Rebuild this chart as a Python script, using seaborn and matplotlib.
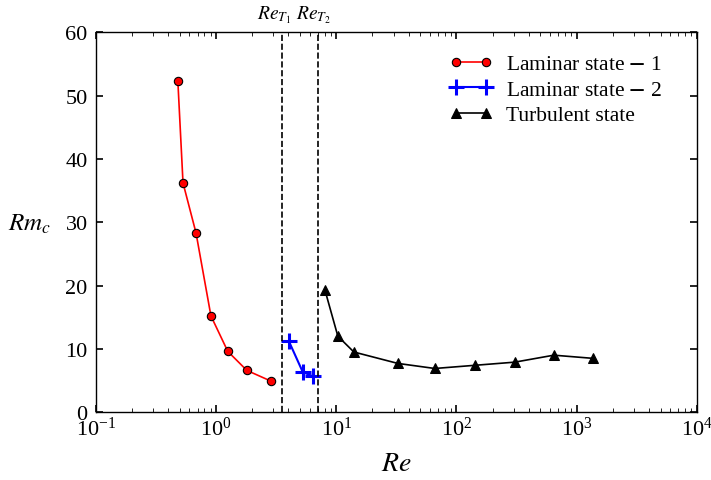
import numpy as np
import pandas as pd
import matplotlib
matplotlib.use("Agg")
import matplotlib.pyplot as plt
import seaborn as sns

# data
re_lam1 = [0.48, 0.53, 0.68, 0.905, 1.25, 1.80, 2.86]
rm_lam1 = [52.3, 36.2, 28.3, 15.2, 9.6, 6.6, 4.9]

re_lam2 = [4.03, 5.27, 6.39]
rm_lam2 = [11.2, 6.3, 5.7]

re_turb = [8.04, 10.3, 14.0, 32.5, 66, 142, 306, 646, 1365]
rm_turb = [19.3, 12.0, 9.5, 7.7, 6.9, 7.4, 7.9, 9.0, 8.5]

re_transitions = [3.53, 7.03]
transition_labels = [r"$Re_{T_1}$", r"$Re_{T_2}$"]

sns.set_style("ticks")
plt.rcParams["font.family"] = ["Liberation Serif", "DejaVu Serif"]
plt.rcParams["mathtext.fontset"] = "stix"
plt.rcParams["xtick.direction"] = "in"
plt.rcParams["ytick.direction"] = "in"
plt.rcParams["text.color"] = "black"
plt.rcParams["axes.labelcolor"] = "black"
plt.rcParams["xtick.color"] = "black"
plt.rcParams["ytick.color"] = "black"

fig = plt.figure(figsize=(7.11, 4.81), dpi=100)
ax = fig.add_axes([0.135, 0.141, 0.845, 0.790])

df1 = pd.DataFrame({"Re": re_lam1, "Rm": rm_lam1})
df2 = pd.DataFrame({"Re": re_lam2, "Rm": rm_lam2})
df3 = pd.DataFrame({"Re": re_turb, "Rm": rm_turb})

sns.lineplot(data=df1, x="Re", y="Rm", ax=ax, color="red", marker="o",
             markersize=6, markerfacecolor="red", markeredgecolor="black",
             markeredgewidth=0.8, linewidth=1.2,
             label=r"Laminar state $\mathbf{-}$ 1")
sns.lineplot(data=df2, x="Re", y="Rm", ax=ax, color="blue", marker="+",
             markersize=11, markeredgecolor="blue", markeredgewidth=2.2,
             linewidth=1.5, label=r"Laminar state $\mathbf{-}$ 2")
sns.lineplot(data=df3, x="Re", y="Rm", ax=ax, color="black", marker="^",
             markersize=7, markeredgecolor="black", linewidth=1.2,
             label="Turbulent state")

for xv, lab, dx in zip(re_transitions, transition_labels, [-6, -3]):
    ax.axvline(xv, color="black", linestyle="--", linewidth=1.2)
    ax.annotate(lab, xy=(xv, 60), xycoords="data", xytext=(dx, 5),
                textcoords="offset points", ha="center", va="bottom",
                fontsize=14)

ax.set_xscale("log")
ax.set_xlim(1e-1, 1e4)
ax.set_ylim(0, 60)
ax.set_yticks(range(0, 61, 10))
ax.tick_params(which="both", top=True, right=True, labelsize=16)
ax.tick_params(which="major", length=5, width=1.2)
ax.tick_params(which="minor", length=3)
ax.tick_params(axis="y", pad=6)
for sp in ax.spines.values():
    sp.set_linewidth(1.0)
    sp.set_color("black")

ax.set_xlabel(r"$Re$", fontsize=20, labelpad=8)
ax.set_ylabel(r"$Rm_c$", fontsize=18, rotation=0, va="center")
ax.yaxis.set_label_coords(-0.111, 0.497)

leg = ax.legend(loc="upper right", bbox_to_anchor=(1 - 35 / 601, 0.942),
                frameon=False, fontsize=15.5, numpoints=2,
                handlelength=2.0, handletextpad=0.6, borderpad=0,
                borderaxespad=0, labelspacing=0.25)

fig.savefig("out.png", dpi=100)
